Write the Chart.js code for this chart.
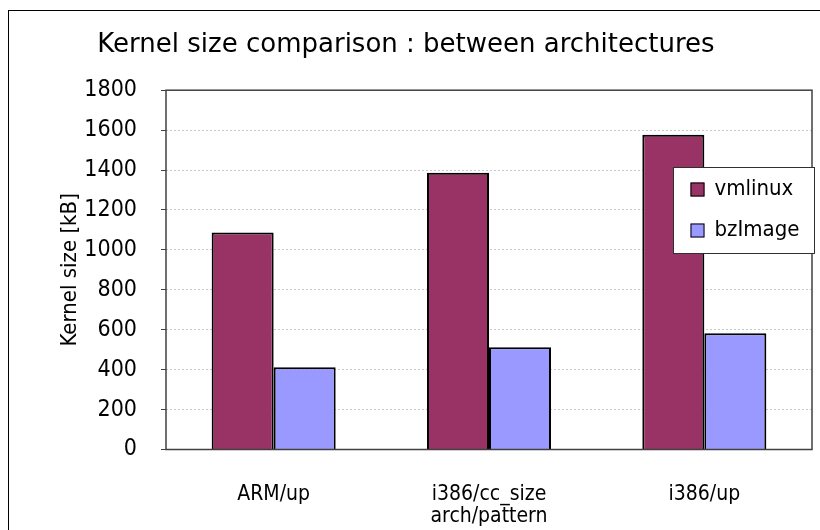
<!DOCTYPE html>
<html>
<head>
<meta charset="utf-8">
<script src="https://cdn.jsdelivr.net/npm/chart.js@4/dist/chart.umd.min.js"></script>
<style>
  html, body { margin: 0; padding: 0; background: #fff; }
  #wrap { width: 820px; height: 530px; position: relative; }
</style>
</head>
<body>
<div id="wrap"><canvas id="c" width="820" height="530"></canvas></div>
<script>
// Kernel image sizes per build configuration, in kB
const categories = [["ARM/up"], ["i386/cc_size", "arch/pattern"], ["i386/up"]];
const seriesNames = ["vmlinux", "bzImage"];
const vmlinuxKB = [1087, 1387, 1577];
const bzImageKB = [412, 512, 582];
const yTicks = [0, 200, 400, 600, 800, 1000, 1200, 1400, 1600, 1800];

const FONT = "'DejaVu Sans Condensed', 'DejaVu Sans', sans-serif";
const TITLE_FONT = "'DejaVu Sans', sans-serif";
const colors = ["#993366", "#9999FF"];

// Frame round the plot area, the outer frame and a boxed legend
const decor = {
  id: 'decor',
  afterDraw(chart) {
    const ctx = chart.ctx;
    const a = chart.chartArea;
    ctx.save();
    ctx.strokeStyle = '#404040';
    ctx.lineWidth = 1.5;
    ctx.strokeRect(a.left, a.top, a.right - a.left, a.bottom - a.top);

    ctx.strokeStyle = '#000';
    ctx.lineWidth = 1;
    ctx.strokeRect(8.5, 10.5, 820, 540);

    // legend box
    const lx = 673.5, ly = 167.5, lw = 141, lh = 86;
    ctx.fillStyle = '#fff';
    ctx.fillRect(lx, ly, lw, lh);
    ctx.strokeStyle = '#303030';
    ctx.strokeRect(lx, ly, lw, lh);
    ctx.font = "22px " + FONT;
    ctx.textBaseline = 'middle';
    chart.data.datasets.forEach((ds, i) => {
      const cy = ly + 22 + i * 41;
      ctx.fillStyle = ds.backgroundColor;
      ctx.fillRect(lx + 17, cy - 7, 14, 14);
      ctx.strokeStyle = '#000';
      ctx.lineWidth = 1;
      ctx.strokeRect(lx + 17.5, cy - 6.5, 13, 13);
      ctx.fillStyle = '#000';
      ctx.fillText(ds.label, lx + 41, cy);
    });
    ctx.restore();
  }
};

new Chart(document.getElementById('c'), {
  type: 'bar',
  data: {
    labels: categories,
    datasets: [
      { label: seriesNames[0], data: vmlinuxKB, backgroundColor: colors[0], borderColor: '#000', borderWidth: 2 },
      { label: seriesNames[1], data: bzImageKB, backgroundColor: colors[1], borderColor: '#000', borderWidth: 2 }
    ]
  },
  options: {
    responsive: false,
    animation: false,
    devicePixelRatio: 1,
    layout: { padding: { left: 0, right: 8, top: 0, bottom: 0 } },
    datasets: { bar: { categoryPercentage: 0.576, barPercentage: 1.0 } },
    plugins: {
      legend: { display: false },
      tooltip: { enabled: false },
      title: {
        display: true,
        text: 'Kernel size comparison : between architectures',
        color: '#000',
        font: { family: TITLE_FONT, size: 26, weight: 'normal' },
        padding: { top: 30, bottom: 29 }
      }
    },
    scales: {
      x: {
        grid: { display: false, drawTicks: false },
        border: { display: false },
        ticks: { color: '#000', font: { family: FONT, size: 21, lineHeight: 1.05 }, padding: 34, maxRotation: 0, autoSkip: false },
        afterFit(s) { s.height = 80.5; }
      },
      y: {
        min: 0, max: 1800,
        afterBuildTicks(s) { s.ticks = yTicks.map(v => ({ value: v })); },
        grid: {
          color: '#c8c8c8',
          lineWidth: 1,
          tickLength: 5,
          tickColor: '#404040'
        },
        border: { display: false, dash: [2, 2] },
        ticks: {
          color: '#000',
          font: { family: FONT, size: 23 },
          padding: 24,
          callback: (v) => String(v)
        },
        title: {
          display: true,
          text: 'Kernel size [kB]',
          color: '#000',
          font: { family: FONT, size: 22 },
          padding: { top: 57, bottom: 0 }
        },
        afterFit(s) { s.width = 166; }
      }
    }
  },
  plugins: [decor]
});
</script>
</body>
</html>
